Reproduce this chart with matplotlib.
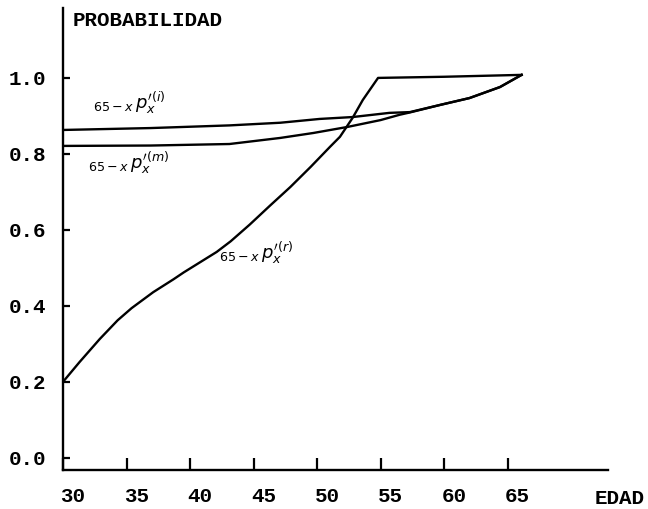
import matplotlib
matplotlib.use("Agg")
import matplotlib.pyplot as plt
import matplotlib.transforms as mtransforms

# curve readings (age, probability)
AGE_R = [30.0, 31.3, 32.9, 34.3, 35.4, 37.1, 38.7, 39.5, 42.1, 43.2, 44.7, 46.3, 47.9,
         49.5, 51.0, 51.8, 52.8, 53.6, 54.8, 60.0, 66.1]
PROB_R = [0.200, 0.252, 0.313, 0.362, 0.394, 0.436, 0.470, 0.488, 0.542, 0.570, 0.614, 0.664, 0.713,
          0.766, 0.818, 0.845, 0.895, 0.942, 1.000, 1.003, 1.008]

AGE_I = [30.0, 36.9, 43.1, 47.1, 50.2, 52.8, 55.7, 57.3, 59.7, 62.0, 64.4, 66.1]
PROB_I = [0.863, 0.868, 0.875, 0.882, 0.892, 0.897, 0.908, 0.910, 0.929, 0.947, 0.976, 1.008]

AGE_M = [30.0, 36.9, 43.1, 47.1, 49.7, 52.4, 55.0, 56.5, 57.3, 59.7, 62.0, 64.4, 66.1]
PROB_M = [0.821, 0.822, 0.826, 0.842, 0.855, 0.871, 0.889, 0.903, 0.909, 0.929, 0.947, 0.976, 1.008]

X_TICKS = [30, 35, 40, 45, 50, 55, 60, 65]
Y_TICKS = [0.0, 0.2, 0.4, 0.6, 0.8, 1.0]
Y_TICK_LABELS = ["0.0", "0.2", "0.4", "0.6", "0.8", "1.0"]

MONO = ["Liberation Mono", "DejaVu Sans Mono"]

fig = plt.figure(figsize=(6.48, 5.09), dpi=100)
ax = fig.add_axes([63 / 648, 39 / 509, (608 - 63) / 648, (470 - 8) / 509])

for xs, ys in [(AGE_R, PROB_R), (AGE_I, PROB_I), (AGE_M, PROB_M)]:
    ax.plot(xs, ys, color="black", lw=1.7, solid_joinstyle="round")

ax.set_xlim(30, 72.9)
ax.set_ylim(-0.032, 1.184)

for side in ["top", "right"]:
    ax.spines[side].set_visible(False)
for side in ["left", "bottom"]:
    ax.spines[side].set_linewidth(1.7)

ax.set_xticks(X_TICKS)
ax.set_xticklabels([str(t) for t in X_TICKS], family=MONO, fontweight="bold", fontsize=15)
ax.set_yticks(Y_TICKS)
ax.set_yticklabels(Y_TICK_LABELS, family=MONO, fontweight="bold", fontsize=15)
ax.tick_params(axis="x", direction="in", length=9, width=1.6, pad=12)
ax.tick_params(axis="y", direction="in", length=5, width=1.6, pad=12)

# labels in the scan sit a little right of their ticks
shift = mtransforms.ScaledTranslation(10 / 100, 0, fig.dpi_scale_trans)
for lab in ax.get_xticklabels():
    lab.set_transform(lab.get_transform() + shift)

fig.text(73 / 648, 1 - 20 / 509, "PROBABILIDAD", family=MONO, fontweight="bold",
         fontsize=15, ha="left", va="center")
fig.text(620 / 648, 1 - 498 / 509, "EDAD", family=MONO, fontweight="bold",
         fontsize=15, ha="center", va="center")

ax.text(35.2, 0.935, r"$_{65-x}\,p_{x}^{\prime(i)}$", fontsize=13, ha="center", va="center")
ax.text(35.2, 0.775, r"$_{65-x}\,p_{x}^{\prime(m)}$", fontsize=13, ha="center", va="center")
ax.text(45.2, 0.54, r"$_{65-x}\,p_{x}^{\prime(r)}$", fontsize=13, ha="center", va="center")

fig.savefig("out.png", dpi=100)
